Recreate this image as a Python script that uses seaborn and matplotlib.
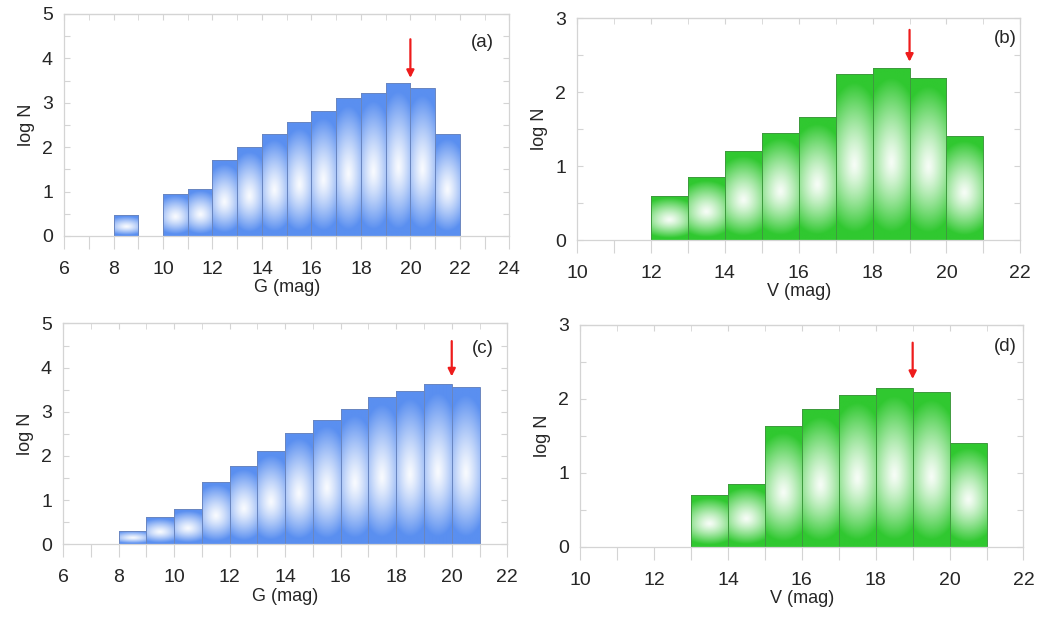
import numpy as np
import pandas as pd
import matplotlib
matplotlib.use("Agg")
import matplotlib.pyplot as plt
import matplotlib.colors as mcolors
import seaborn as sns

# bin centres (mag) and log N
a_mag = [8.5, 10.5, 11.5, 12.5, 13.5, 14.5, 15.5, 16.5, 17.5, 18.5, 19.5, 20.5, 21.5]
a_logn = [0.47, 0.95, 1.06, 1.71, 2.0, 2.29, 2.56, 2.81, 3.10, 3.21, 3.44, 3.34, 2.30]

b_mag = [12.5, 13.5, 14.5, 15.5, 16.5, 17.5, 18.5, 19.5, 20.5]
b_logn = [0.60, 0.85, 1.20, 1.45, 1.66, 2.25, 2.32, 2.19, 1.41]

c_mag = [8.5, 9.5, 10.5, 11.5, 12.5, 13.5, 14.5, 15.5, 16.5, 17.5, 18.5, 19.5, 20.5]
c_logn = [0.31, 0.61, 0.79, 1.41, 1.78, 2.11, 2.52, 2.82, 3.06, 3.33, 3.48, 3.62, 3.57]

d_mag = [13.5, 14.5, 15.5, 16.5, 17.5, 18.5, 19.5, 20.5]
d_logn = [0.70, 0.85, 1.63, 1.86, 2.06, 2.15, 2.10, 1.41]

# limiting magnitude markers: (x, arrow start, arrow tip)
arrows = {"a": (20, 4.43, 3.56), "b": (19, 2.84, 2.41),
          "c": (20, 4.60, 3.80), "d": (19, 2.76, 2.27)}

BLUE = "#5a8ff0"
GREEN = "#30c830"
FRAME = "#d4d4d4"

sns.set_style("white")
plt.rcParams["font.family"] = ["Liberation Sans", "DejaVu Sans"]


def gradient_fill(ax, patch, color):
    # white glow in the middle of each bar, base colour at top and bottom
    x0, y0 = patch.get_x(), patch.get_y()
    w, h = patch.get_width(), patch.get_height()
    if h <= 0:
        return
    ny, nx = 160, 40
    v, u = np.mgrid[0:1:ny * 1j, 0:1:nx * 1j]
    cy = 0.45
    dy = np.where(v > cy, (v - cy) / (1 - cy), (cy - v) / cy)
    dx = (u - 0.5) / 0.5
    d = np.sqrt(dx ** 2 * 0.25 + dy ** 2)
    mix = np.clip(d / 0.9, 0, 1) ** 1.25
    mix = 0.04 + 0.96 * mix
    base = np.array(mcolors.to_rgb(color))
    img = np.ones((ny, nx, 3)) * (1 - mix[..., None]) + base * mix[..., None]
    im = ax.imshow(img, extent=(x0, x0 + w, y0, y0 + h), origin="lower",
                   aspect="auto", zorder=patch.get_zorder(), interpolation="bilinear")
    im.set_clip_path(patch)
    patch.set_facecolor("none")
    patch.set_zorder(patch.get_zorder() + 0.1)


def draw_panel(ax, mag, logn, color, edge, xlim, ylim, xlabel, tag, arrow):
    df = pd.DataFrame({"mag": mag, "logn": logn})
    lo, hi = min(mag) - 0.5, max(mag) + 0.5
    sns.histplot(data=df, x="mag", weights="logn", binwidth=1, binrange=(lo, hi),
                 ax=ax, color=color, edgecolor=edge, linewidth=0.7, alpha=1)
    for p in list(ax.patches):
        gradient_fill(ax, p, color)
    ax.set_xlim(*xlim)
    ax.set_ylim(*ylim)
    ax.set_xticks(np.arange(xlim[0], xlim[1] + 1, 2))
    ax.set_yticks(np.arange(ylim[0], ylim[1] + 1, 1))
    ax.set_xticks(np.arange(xlim[0], xlim[1] + 1, 1), minor=True)
    ax.set_yticks(np.arange(ylim[0], ylim[1] + 0.5, 0.5), minor=True)
    ax.set_xlabel(xlabel, fontsize=13, labelpad=1)
    ax.set_ylabel("log N", fontsize=13, labelpad=5)
    for s in ax.spines.values():
        s.set_color(FRAME)
        s.set_linewidth(0.9)
    ax.tick_params(axis="x", which="both", direction="out", length=9, width=0.8,
                   color=FRAME, labelsize=14, pad=9, bottom=True, top=False)
    ax.tick_params(axis="y", which="both", direction="in", length=4, width=0.8,
                   color=FRAME, labelsize=14, pad=8, left=True, right=True)
    sec = ax.secondary_xaxis("top")
    sec.set_xticks(np.arange(xlim[0], xlim[1] + 1, 2))
    sec.set_xticks(np.arange(xlim[0], xlim[1] + 1, 1), minor=True)
    sec.tick_params(which="both", direction="in", length=4, color=FRAME, labeltop=False)
    sec.spines["top"].set_color(FRAME)
    ax.text(tag[1], tag[2], tag[0], transform=ax.transAxes, fontsize=13.5,
            ha="center", va="center")
    x, y1, y2 = arrow
    ax.annotate("", xy=(x, y2), xytext=(x, y1),
                arrowprops=dict(arrowstyle="-|>", color="#ee1c1c", lw=1.6,
                                mutation_scale=11, shrinkA=0, shrinkB=0))


fig = plt.figure(figsize=(10.38, 6.22), dpi=100)
ax_a = fig.add_axes([0.0617, 0.6206, 0.429, 0.357])
ax_b = fig.add_axes([0.556, 0.614, 0.427, 0.357])
ax_c = fig.add_axes([0.0607, 0.125, 0.428, 0.355])
ax_d = fig.add_axes([0.559, 0.1206, 0.427, 0.357])

draw_panel(ax_a, a_mag, a_logn, BLUE, "#6a86c0", (6, 24), (0, 5), "G (mag)",
           ("(a)", 0.94, 0.87), arrows["a"])
draw_panel(ax_b, b_mag, b_logn, GREEN, "#3f9a3f", (10, 22), (0, 3), "V (mag)",
           ("(b)", 0.966, 0.91), arrows["b"])
draw_panel(ax_c, c_mag, c_logn, BLUE, "#6a86c0", (6, 22), (0, 5), "G (mag)",
           ("(c)", 0.944, 0.887), arrows["c"])
draw_panel(ax_d, d_mag, d_logn, GREEN, "#3f9a3f", (10, 22), (0, 3), "V (mag)",
           ("(d)", 0.96, 0.905), arrows["d"])

fig.savefig("out.png", dpi=100)
